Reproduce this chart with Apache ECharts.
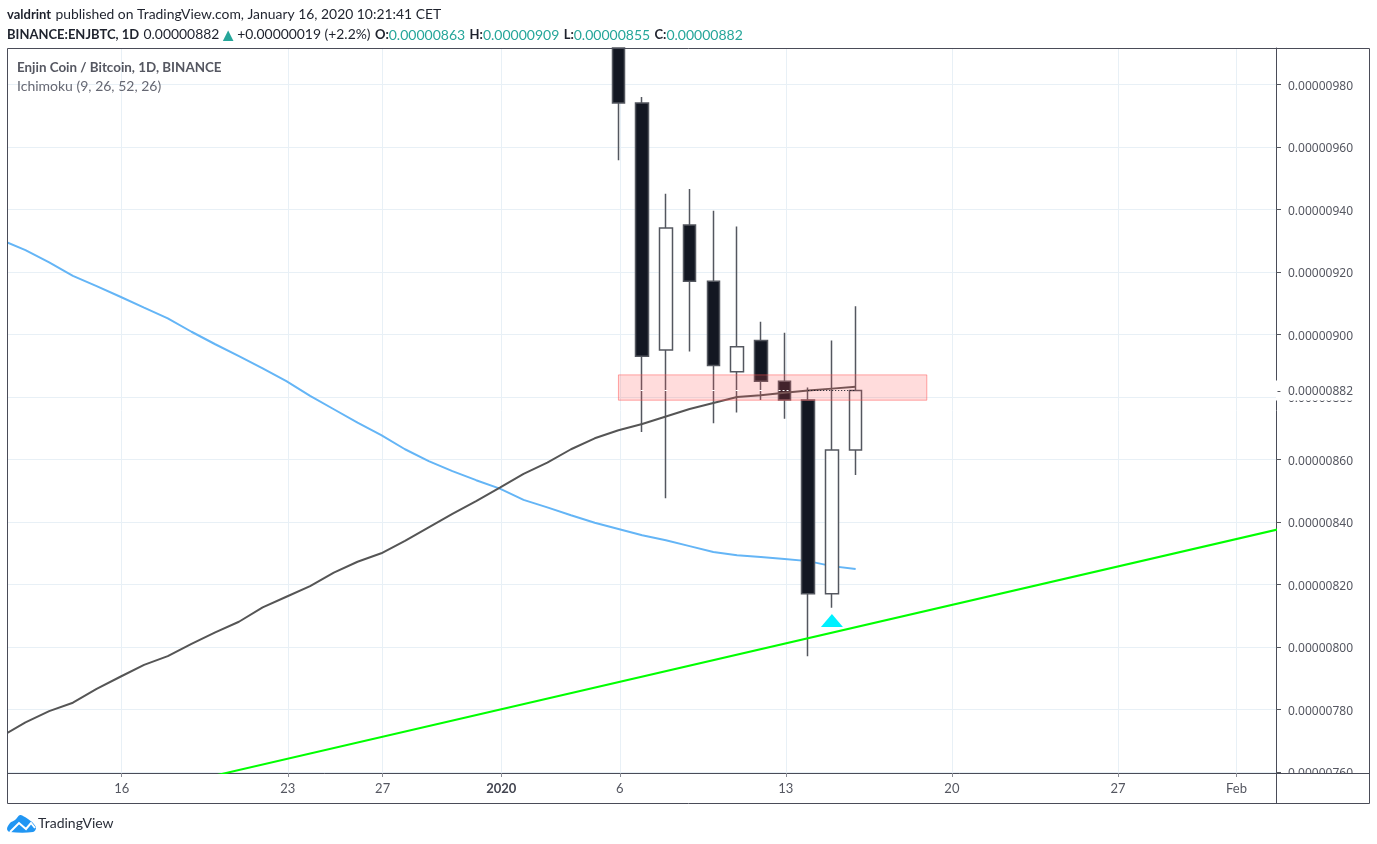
<!DOCTYPE html>
<html>
<head>
<meta charset="utf-8">
<title>ENJBTC</title>
<script src="https://cdn.jsdelivr.net/npm/echarts@6/dist/echarts.min.js"></script>
<style>
html,body{margin:0;padding:0;background:#fff}
#main{width:1377px;height:844px}
</style>
</head>
<body>
<div id="main"></div>
<script>
// prices are in satoshi (1e-8 BTC), the axis formats them back
var lineDates = ['2019-12-11','2019-12-12','2019-12-13','2019-12-14','2019-12-15','2019-12-16','2019-12-17','2019-12-18','2019-12-19','2019-12-20',
    '2019-12-21','2019-12-22','2019-12-23','2019-12-24','2019-12-25','2019-12-26','2019-12-27','2019-12-28','2019-12-29','2019-12-30','2019-12-31',
    '2020-01-01','2020-01-02','2020-01-03','2020-01-04','2020-01-05','2020-01-06','2020-01-07','2020-01-08','2020-01-09','2020-01-10',
    '2020-01-11','2020-01-12','2020-01-13','2020-01-14','2020-01-15','2020-01-16'];
var baseLine = [930.1,926.9,923,918.7,915.4,912,908.5,905.1,900.8,896.8,
    893,889.1,885,880.3,876,871.7,867.7,863.2,859.4,856.2,853.3,
    850.6,847,844.6,842.1,839.7,837.7,835.7,834.1,832.2,830.3,
    829.3,828.7,828.1,827.4,825.8,824.9];
var conversionLine = [771.4,775.8,779.4,782.1,786.5,790.4,794.2,797,800.9,804.6,
    808,812.6,816,819.4,823.7,827.2,829.9,833.9,838.2,842.5,846.6,
    850.9,855.3,858.9,863.2,866.7,869.3,871.3,873.7,876.1,878,
    879.9,880.5,881.3,882,882.6,883.2];

// the first candle opens above the visible range, it is cut at the top of the pane
var candleDates = ['2020-01-06','2020-01-07','2020-01-08','2020-01-09','2020-01-10','2020-01-11','2020-01-12','2020-01-13','2020-01-14','2020-01-15','2020-01-16'];
var opens  = [991.6,974,895,935,917,888,898,885,879,817,863];
var closes = [974,893,934,917,890,896,885,879,817,863,882];
var lows   = [955.7,868.7,847.5,894.5,871.5,875,879,873,797,812.5,855];
var highs  = [991.6,975.9,945,946.5,939.5,934.5,904,900.5,883,898,909];

var trendDates = ['2019-12-20','2020-02-03'];
var trendValues = [758.8,837.9];

var zoneDates = ['2020-01-06','2020-01-19'];
var zoneValues = [887,878.9];

var arrowDate = '2020-01-15';
var arrowValue = 808.4;

var lastPrice = 882;
var priceWickDates = ['2020-01-07','2020-01-08','2020-01-10','2020-01-11','2020-01-12'];
var priceLineLeft = ['2020-01-12 18:00','2020-01-13 06:00'];
var priceLineRight = ['2020-01-14','2020-01-16'];

var xTickDates = ['2019-12-16','2019-12-23','2019-12-27','2020-01-01','2020-01-06','2020-01-13','2020-01-20','2020-01-27','2020-02-01'];
var xTickLabels = ['16','23','27','2020','6','13','20','27','Feb'];
var yTicks = [760,780,800,820,840,860,880,900,920,940,960,980];

var FONT = 'Lato';
var GRID = '#e8f0f6';
var FRAME = '#4a4c58';
var TEAL = '#26a69a';
var TICK_SHIFT = 1.4 * 3600 * 1000; // date ticks sit a little right of the candles

function toTime(s) {
    var p = s.split(/[- :]/);
    return new Date(+p[0], +p[1] - 1, +p[2], +(p[3] || 0), +(p[4] || 0)).getTime();
}
function fmtPrice(v) {
    return (v / 1e8).toFixed(8);
}
function pairs(dates, values) {
    return dates.map(function (d, i) { return [toTime(d), values[i]]; });
}

var xTickTimes = xTickDates.map(function (d) { return toTime(d) + TICK_SHIFT; });
var xLabelMap = {};
xTickTimes.forEach(function (t, i) { xLabelMap[t] = xTickLabels[i]; });

var candles = candleDates.map(function (d, i) {
    return [toTime(d), opens[i], closes[i], lows[i], highs[i]];
});

var headRich = {
    b: {fontFamily: FONT, fontSize: 13, fontWeight: 'bold', color: '#1e222d'},
    n: {fontFamily: FONT, fontSize: 13.9, fontWeight: 'normal', color: '#1e222d'},
    a: {fontFamily: FONT, fontSize: 18, fontWeight: 'normal', color: TEAL},
    t: {fontFamily: FONT, fontSize: 14, fontWeight: 'normal', color: TEAL}
};

var chart = echarts.init(document.getElementById('main'), null, {renderer: 'canvas'});
chart.setOption({
    animation: false,
    backgroundColor: '#fff',
    textStyle: {fontFamily: FONT},
    title: [{
        left: 7, top: 6, padding: 0,
        text: '{b|valdrint} {n|published on TradingView.com, January 16, 2020 10:21:41 CET}',
        textStyle: {rich: headRich}
    }, {
        left: 7, top: 26, padding: 0,
        text: '{b|BINANCE:ENJBTC, 1D} {n|0.00000882}{a|▲}{n|+0.00000019 (+2.2%)} {b|O:}{t|0.00000863} {b|H:}{t|0.00000909} {b|L:}{t|0.00000855} {b|C:}{t|0.00000882}',
        textStyle: {rich: headRich}
    }, {
        left: 17, top: 61, padding: 0,
        text: 'Enjin Coin / Bitcoin, 1D, BINANCE',
        textStyle: {fontFamily: FONT, fontSize: 13.4, fontWeight: 'bold', color: '#555761'}
    }, {
        left: 17, top: 79, padding: 0,
        text: 'Ichimoku (9, 26, 52, 26)',
        textStyle: {fontFamily: FONT, fontSize: 14, fontWeight: 'normal', color: '#666873'}
    }, {
        left: 38, top: 816, padding: 0,
        text: 'TradingView',
        textStyle: {fontFamily: FONT, fontSize: 14, fontWeight: 'normal', color: '#2a2e39'}
    }],
    grid: {left: 8, top: 48, width: 1268, height: 725, show: false},
    xAxis: {
        type: 'value',
        min: toTime('2019-12-11 06:20'),
        max: toTime('2020-02-02 17:20'),
        axisLine: {show: true, lineStyle: {color: FRAME, width: 1}},
        axisTick: {show: true, length: 4, customValues: xTickTimes, lineStyle: {color: '#8a8d96'}},
        splitLine: {show: true, lineStyle: {color: GRID, width: 1}},
        axisLabel: {
            customValues: xTickTimes,
            margin: 9,
            hideOverlap: false,
            color: '#555761',
            fontFamily: FONT,
            fontSize: 13,
            formatter: function (v) {
                var s = xLabelMap[v] || '';
                return s === '2020' ? '{y|2020}' : s;
            },
            rich: {y: {fontFamily: FONT, fontSize: 13, fontWeight: 'bold', color: '#444651'}}
        }
    },
    yAxis: [{
        type: 'value',
        position: 'right',
        min: 759.6,
        max: 991.6,
        axisLine: {show: true, lineStyle: {color: FRAME, width: 1}},
        axisTick: {show: true, length: 5, customValues: yTicks, lineStyle: {color: '#55575f'}},
        splitLine: {show: true, lineStyle: {color: GRID, width: 1}},
        axisLabel: {
            customValues: yTicks,
            margin: 12,
            formatter: function (v) { return '{v|' + fmtPrice(v) + '}'; },
            rich: {v: {fontFamily: 'Noto Sans', fontSize: 12, color: '#555761', padding: [4, 0, 0, 0]}}
        }
    }, {
        // last price tag, sits on top of the 880 label
        type: 'value',
        position: 'right',
        min: 759.6,
        max: 991.6,
        z: 6,
        axisLine: {show: false},
        axisTick: {show: false},
        splitLine: {show: false},
        axisLabel: {
            customValues: [lastPrice],
            margin: 0,
            backgroundColor: '#fff',
            padding: [5, 14, 3, 1],
            formatter: function (v) { return '{d|-}{v|' + fmtPrice(v) + '}'; },
            rich: {
                d: {width: 11, fontFamily: 'Noto Sans', fontSize: 12, color: '#55575f'},
                v: {fontFamily: 'Noto Sans', fontSize: 12, color: '#555761'}
            }
        }
    }],
    series: [{
        name: 'Base Line',
        type: 'line',
        z: 1,
        data: pairs(lineDates, baseLine),
        showSymbol: false,
        lineStyle: {color: '#64b5f6', width: 2}
    }, {
        name: 'ENJBTC',
        type: 'candlestick',
        z: 2,
        barWidth: 13,
        data: candles,
        encode: {x: 0, y: [1, 2, 3, 4]},
        itemStyle: {
            color: '#ffffff',
            color0: '#131722',
            borderColor: '#54575f',
            borderColor0: '#54575f',
            borderWidth: 1.5
        }
    }, {
        name: 'Conversion Line',
        type: 'line',
        z: 3,
        data: pairs(lineDates, conversionLine),
        showSymbol: false,
        lineStyle: {color: '#555555', width: 2}
    }, {
        name: 'Trend',
        type: 'line',
        z: 3,
        data: pairs(trendDates, trendValues),
        showSymbol: false,
        lineStyle: {color: '#00ff00', width: 2}
    }, {
        name: 'Zone',
        type: 'line',
        z: 4,
        data: [],
        markArea: {
            z: 4,
            silent: true,
            itemStyle: {color: 'rgba(255,82,82,0.2)', borderColor: 'rgba(255,82,82,0.5)', borderWidth: 1},
            data: [[
                {coord: [toTime(zoneDates[0]), zoneValues[0]]},
                {coord: [toTime(zoneDates[1]), zoneValues[1]]}
            ]]
        }
    }, {
        name: 'Price line wicks',
        type: 'scatter',
        z: 5,
        symbol: 'rect',
        symbolSize: [3, 1],
        itemStyle: {color: '#ffffff', opacity: 1},
        data: priceWickDates.map(function (d) { return [toTime(d), lastPrice]; })
    }, {
        name: 'Price line left',
        type: 'line',
        z: 5,
        data: pairs(priceLineLeft, [lastPrice, lastPrice]),
        showSymbol: false,
        lineStyle: {color: '#ffffff', width: 1, type: [2, 2]}
    }, {
        name: 'Price line right',
        type: 'line',
        z: 5,
        data: pairs(priceLineRight, [lastPrice, lastPrice]),
        showSymbol: false,
        lineStyle: {color: '#131722', width: 1, type: [1, 2]}
    }, {
        name: 'Arrow',
        type: 'scatter',
        z: 5,
        symbol: 'triangle',
        symbolSize: [22, 13],
        itemStyle: {color: '#00f0ff', opacity: 1},
        data: pairs([arrowDate], [arrowValue])
    }],
    graphic: [
        // cover for the axis labels that run under the time scale
        {type: 'rect', z: 100, shape: {x: 1277, y: 774, width: 92, height: 29}, style: {fill: '#fff'}},
        {type: 'rect', z: 101, shape: {x: 7.5, y: 48.5, width: 1362, height: 755}, style: {fill: 'none', stroke: FRAME, lineWidth: 1}},
        {type: 'line', z: 101, shape: {x1: 1276.5, y1: 773, x2: 1276.5, y2: 803}, style: {stroke: FRAME, lineWidth: 1}},
        {type: 'line', z: 101, shape: {x1: 1276, y1: 773.5, x2: 1369, y2: 773.5}, style: {stroke: FRAME, lineWidth: 1}},
        // logo
        {type: 'polygon', z: 101, shape: {smooth: 0.35, points: [[7, 829], [10, 823], [15, 820], [20, 815], [25, 817], [28, 819], [33, 823], [36, 828], [33, 832], [10, 832]]}, style: {fill: '#2196f3'}},
        {type: 'polyline', z: 102, shape: {points: [[10, 832], [19, 823], [26, 829], [31, 823], [35, 828]]}, style: {fill: 'none', stroke: '#fff', lineWidth: 2}}
    ]
});
</script>
</body>
</html>
